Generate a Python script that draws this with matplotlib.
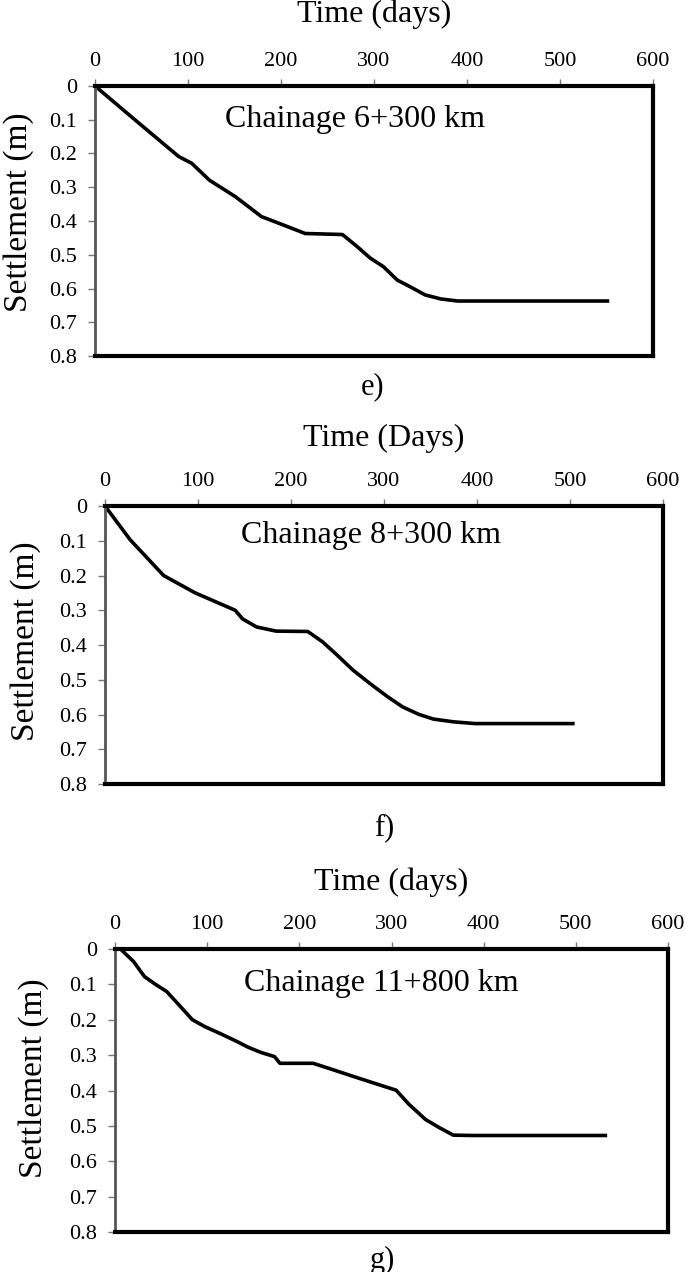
import matplotlib
matplotlib.use("Agg")
import matplotlib.pyplot as plt

plt.rcParams["font.family"] = ["Liberation Serif", "DejaVu Serif"]

# panel e) chainage 6+300 km
days_e = [0, 45, 90, 104, 123, 151, 179, 198, 226, 266, 282, 296, 310, 325,
          339, 355, 372, 390, 551]
settle_e = [0, 0.105, 0.209, 0.229, 0.279, 0.328, 0.387, 0.407, 0.437, 0.44,
            0.476, 0.51, 0.535, 0.575, 0.595, 0.619, 0.631, 0.637, 0.637]

# panel f) chainage 8+300 km
days_f = [0, 27, 63, 97, 140, 148, 163, 184, 218, 234, 248, 267, 285, 304,
          320, 337, 353, 375, 398, 503]
settle_f = [0, 0.097, 0.2, 0.25, 0.30, 0.325, 0.348, 0.36, 0.361, 0.391,
            0.425, 0.473, 0.511, 0.549, 0.578, 0.599, 0.613, 0.621, 0.626,
            0.626]

# panel g) chainage 11+800 km
days_g = [0, 6, 20, 32, 44, 56, 68, 84, 98, 115, 132, 144, 158, 173, 179,
          215, 234, 262, 281, 305, 319, 337, 352, 367, 386, 532]
settle_g = [0, 0, 0.035, 0.078, 0.10, 0.12, 0.154, 0.20, 0.22, 0.24, 0.261,
            0.277, 0.292, 0.304, 0.323, 0.323, 0.339, 0.363, 0.379, 0.399,
            0.439, 0.482, 0.505, 0.526, 0.527, 0.527]

x_ticks = [0, 100, 200, 300, 400, 500, 600]
y_ticks = [0, 0.1, 0.2, 0.3, 0.4, 0.5, 0.6, 0.7, 0.8]
y_tick_labels = ["0", "0.1", "0.2", "0.3", "0.4", "0.5", "0.6", "0.7", "0.8"]

panels = [
    # rect, x, y, chainage text, text pos, x title, title y, caption, caption pos, ylabel coords
    ([0.1387, 0.7201, 0.8146, 0.2123], days_e, settle_e, "Chainage 6+300 km",
     (280, 0.10), "Time (days)", 14, "e)", (373, 387), (-0.11, 0.533)),
    ([0.1533, 0.3836, 0.8146, 0.2186], days_f, settle_f, "Chainage 8+300 km",
     (286, 0.085), "Time (Days)", 438, "f)", (384, 828), (-0.115, 0.514)),
    ([0.1679, 0.0314, 0.8073, 0.2225], days_g, settle_g, "Chainage 11+800 km",
     (289, 0.097), "Time (days)", 882, "g)", (382, 1260), (-0.12, 0.544)),
]

W, H = 685, 1272
fig = plt.figure(figsize=(W / 100, H / 100), dpi=100)

for rect, xs, ys, chain, tpos, xtitle, ty, cap, cpos, ylc in panels:
    ax = fig.add_axes(rect)
    ax.plot(xs, ys, color="black", linewidth=2.6, solid_joinstyle="round")
    ax.set_xlim(0, 600)
    ax.set_ylim(0.8, 0)
    ax.set_xticks(x_ticks)
    ax.set_yticks(y_ticks)
    ax.set_yticklabels(y_tick_labels)
    ax.xaxis.tick_top()
    ax.tick_params(axis="both", labelsize=16, direction="out", length=5,
                   width=1, color="#777777")
    ax.tick_params(axis="x", pad=6)
    ax.tick_params(axis="y", pad=8)
    for side in ["top", "right", "bottom"]:
        ax.spines[side].set_linewidth(3)
        ax.spines[side].set_color("black")
    ax.spines["left"].set_linewidth(2)
    ax.spines["left"].set_color("#555555")
    ax.set_ylabel("Settlement (m)", fontsize=24)
    ax.yaxis.set_label_coords(*ylc)
    ax.text(tpos[0], tpos[1], chain, fontsize=23, ha="center", va="center")
    fig.text(rect[0] + rect[2] / 2, 1 - ty / H, xtitle, fontsize=23,
             ha="center", va="center")
    fig.text(cpos[0] / W, 1 - cpos[1] / H, cap, fontsize=22,
             ha="center", va="center")

fig.savefig("out.png", dpi=100)
